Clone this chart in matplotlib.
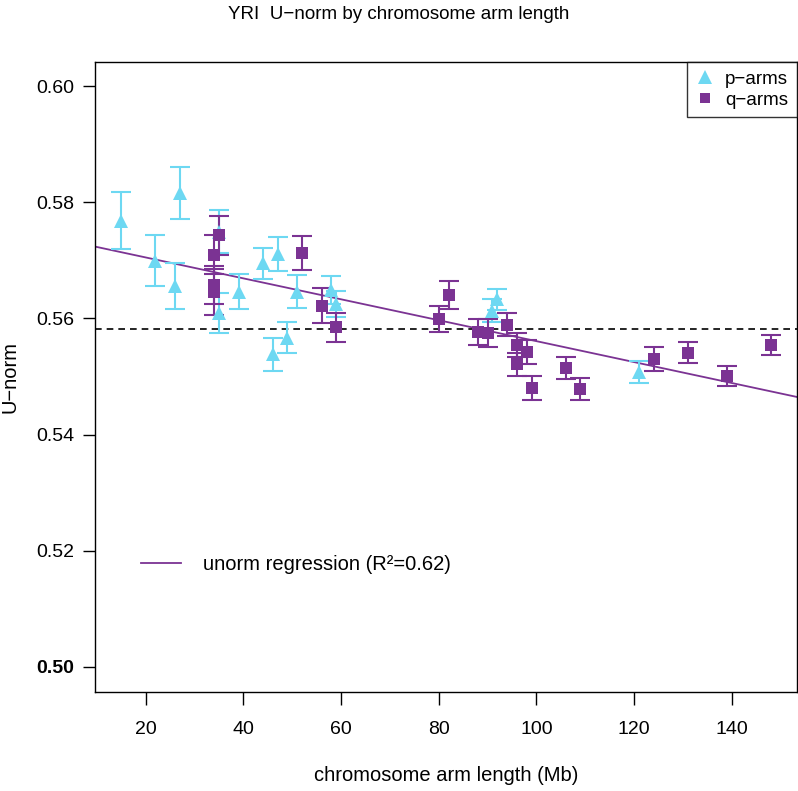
import matplotlib
matplotlib.use("Agg")
import matplotlib.pyplot as plt
from matplotlib.lines import Line2D

plt.rcParams['font.family'] = ['Liberation Sans', 'DejaVu Sans']

# p-arms
p_len = [15, 22, 26, 27, 35, 35, 39, 44, 46, 47, 49, 51, 58, 59, 91, 92, 121]
p_unorm = [0.5768, 0.5699, 0.5656, 0.5816, 0.5749, 0.5609, 0.5646, 0.5695, 0.5538,
           0.5711, 0.5567, 0.5646, 0.5649, 0.5625, 0.5613, 0.5633, 0.5508]
p_err = [0.0049, 0.0044, 0.0039, 0.0045, 0.0037, 0.0034, 0.0030, 0.0027, 0.0028,
         0.0029, 0.0027, 0.0028, 0.0024, 0.0023, 0.0020, 0.0018, 0.0019]

# q-arms
q_len = [35, 34, 34, 34, 52, 56, 59, 80, 82, 88, 90, 94, 96, 96, 98, 99, 106, 109,
         124, 131, 139, 148]
q_unorm = [0.5743, 0.5710, 0.5658, 0.5645, 0.5713, 0.5622, 0.5585, 0.5599, 0.5640,
           0.5577, 0.5575, 0.5589, 0.5554, 0.5521, 0.5542, 0.5480, 0.5515, 0.5478,
           0.5530, 0.5541, 0.5501, 0.5554]
q_err = [0.0034, 0.0034, 0.0033, 0.0040, 0.0029, 0.0030, 0.0025, 0.0022, 0.0024,
         0.0022, 0.0024, 0.0020, 0.0020, 0.0020, 0.0021, 0.0020, 0.0019, 0.0019,
         0.0020, 0.0018, 0.0017, 0.0017]

reg_intercept = 0.5741
reg_slope = -0.0001802
mean_unorm = 0.5582

p_color = '#6DD8F2'
q_color = '#7B3393'

fig = plt.figure(figsize=(7.98, 7.91), dpi=100)
ax = fig.add_axes([0.1187, 0.1255, 0.8797, 0.7957])

ax.errorbar(p_len, p_unorm, yerr=p_err, fmt='none', ecolor=p_color, elinewidth=1.5,
            capsize=7, capthick=1.5, zorder=2)
ax.errorbar(q_len, q_unorm, yerr=q_err, fmt='none', ecolor=q_color, elinewidth=1.5,
            capsize=7, capthick=1.5, zorder=2)
ax.plot(p_len, p_unorm, linestyle='none', marker='^', markersize=10, color=p_color,
        markeredgewidth=0, zorder=3)
ax.plot(q_len, q_unorm, linestyle='none', marker='s', markersize=8, color=q_color,
        markeredgewidth=0, zorder=3)

ax.axline((0, reg_intercept), slope=reg_slope, color=q_color, linewidth=1.3, zorder=1)
ax.axhline(mean_unorm, color='black', linestyle=(0, (4, 3)), linewidth=1.2, zorder=1)

ax.set_xlim(9.56, 153.3)
ax.set_ylim(0.4957, 0.6041)
ax.set_xticks([20, 40, 60, 80, 100, 120, 140])
ax.set_yticks([0.50, 0.52, 0.54, 0.56, 0.58, 0.60])
ax.set_yticklabels(['0.50', '0.52', '0.54', '0.56', '0.58', '0.60'])
ax.get_yticklabels()[0].set_fontweight('bold')
ax.tick_params(axis='both', direction='out', length=9, width=1, labelsize=14)
ax.tick_params(axis='y', pad=6)
ax.tick_params(axis='x', pad=12)
for s in ax.spines.values():
    s.set_linewidth(1)

ax.set_xlabel('chromosome arm length (Mb)', fontsize=14.5, labelpad=20)
ax.set_ylabel('U\u2212norm', fontsize=14.5, labelpad=12)
fig.text(0.5, 0.9924, 'YRI  U\u2212norm by chromosome arm length', ha='center', va='top',
         fontsize=13.5)

h1 = [Line2D([], [], linestyle='none', marker='^', markersize=10, color=p_color,
             markeredgewidth=0),
      Line2D([], [], linestyle='none', marker='s', markersize=7, color=q_color,
             markeredgewidth=0)]
leg1 = ax.legend(h1, ['p\u2212arms', 'q\u2212arms'], loc='upper right', fontsize=13.5,
                 frameon=True, fancybox=False, edgecolor='black', borderaxespad=0,
                 handlelength=1.0, handletextpad=0.6, borderpad=0.45, labelspacing=0.2)
leg1.get_frame().set_linewidth(1)
ax.add_artist(leg1)

h2 = [Line2D([], [], color=q_color, linewidth=1.3)]
ax.legend(h2, ['unorm regression (R\u00b2=0.62)'], loc='center left',
          bbox_to_anchor=(0.04, 0.202), frameon=False, fontsize=14.5,
          handlelength=2.0, handletextpad=1.1)

fig.savefig('out.png', dpi=100)
